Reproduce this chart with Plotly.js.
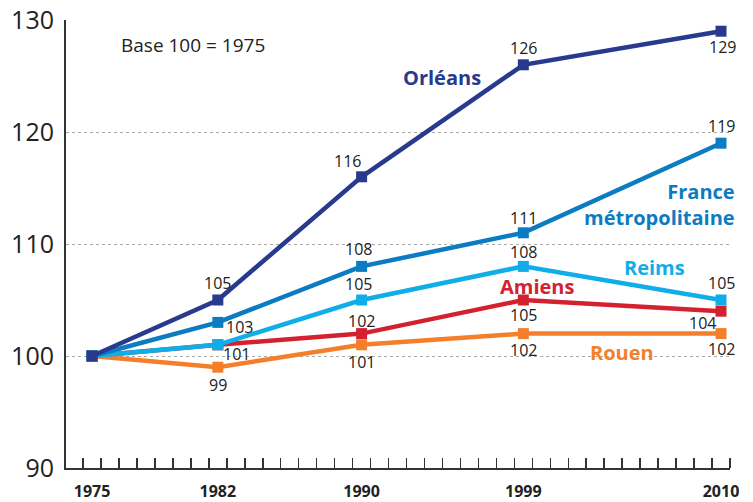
<!DOCTYPE html>
<html>
<head>
<meta charset="utf-8">
<script src="https://cdn.plot.ly/plotly-3.0.1.min.js"></script>
<style>html,body{margin:0;padding:0;background:#fff;}#chart{width:753px;height:502px;}</style>
</head>
<body>
<div id="chart"></div>
<script>
// ---- data ----
const years = [1975, 1982, 1990, 1999, 2010];
const yearLabels = ["1975", "1982", "1990", "1999", "2010"];
const orleans = [100, 105, 116, 126, 129];
const france  = [100, 103, 108, 111, 119];
const reims   = [100, 101, 105, 108, 105];
const amiens  = [100, 101, 102, 105, 104];
const rouen   = [100, 99, 101, 102, 102];
const seriesNames = ["Orléans", "France<br>métropolitaine", "Reims", "Amiens", "Rouen"];
const yTicks = [90, 100, 110, 120, 130];

// ---- styling ----
const colors = {
  orleans: "#283a8e",
  france: "#0b7cc2",
  reims: "#10aee8",
  amiens: "#d42130",
  rouen: "#f47f2b"
};
const FONT = "Open Sans, Noto Sans, sans-serif";

function trace(vals, color) {
  return {
    x: years, y: vals, type: "scatter", mode: "lines+markers",
    line: {color: color, width: 4.5},
    marker: {symbol: "square", size: 11, color: color},
    cliponaxis: false, hoverinfo: "skip", showlegend: false
  };
}

const data = [
  trace(amiens, colors.amiens),
  trace(rouen, colors.rouen),
  trace(reims, colors.reims),
  trace(france, colors.france),
  trace(orleans, colors.orleans)
];

// value labels: [series values, index, xshift, yshift]
const valueLabelPlacement = [
  [orleans, 1, 0, 17], [orleans, 2, -14, 16], [orleans, 3, 0, 17], [orleans, 4, 1, -16],
  [france, 1, 22, -5], [france, 2, -3, 17], [france, 3, 0, 15], [france, 4, 0, 17],
  [reims, 1, 19, -9], [reims, 2, -3, 16], [reims, 3, 0, 14], [reims, 4, 0, 17],
  [amiens, 2, 0, 13], [amiens, 3, 0, -15], [amiens, 4, -19, -12],
  [rouen, 1, 0, -18], [rouen, 2, 0, -17], [rouen, 3, 0, -16], [rouen, 4, 0, -15]
];

const annotations = valueLabelPlacement.map(p => ({
  x: years[p[1]], y: p[0][p[1]], text: String(p[0][p[1]]),
  xshift: p[2], yshift: p[3], showarrow: false,
  font: {family: FONT, size: 16, color: "#222"}
}));

function nameLabel(text, x, y, color, xanchor) {
  return {
    x: x, y: y, text: text, showarrow: false, xanchor: xanchor || "center",
    align: xanchor === "right" ? "right" : "center",
    font: {family: FONT, size: 20, color: color, weight: 700}
  };
}
annotations.push(nameLabel(seriesNames[0], 1994.5, 124.9, colors.orleans));
const fr = nameLabel(seriesNames[1], 1, 113.5, colors.france, "right");
fr.xref = "paper"; fr.xshift = 7;
annotations.push(fr);
annotations.push(nameLabel(seriesNames[2], 2006.3, 107.9, colors.reims));
annotations.push(nameLabel(seriesNames[3], 1999.8, 106.25, colors.amiens));
annotations.push(nameLabel(seriesNames[4], 2004.5, 100.3, colors.rouen));
annotations.push({
  x: 1976.5, y: 127.8, text: "Base 100 = 1975", showarrow: false, xanchor: "left",
  font: {family: FONT, size: 19, color: "#222"}
});

const layout = {
  width: 753, height: 502, autosize: false,
  margin: {l: 66, r: 23, t: 20, b: 34},
  paper_bgcolor: "#fff", plot_bgcolor: "#fff",
  xaxis: {
    range: [1973.55, 2010.5],
    tickmode: "array", tickvals: years, ticktext: yearLabels,
    ticks: "", showgrid: false, zeroline: false,
    showline: true, linecolor: "#333", linewidth: 2,
    tickfont: {family: FONT, size: 16, color: "#222", weight: 700},
    ticklabelstandoff: 8,
    minor: {tickmode: "linear", tick0: 1974.5, dtick: 1, ticks: "inside", ticklen: 10,
            tickwidth: 1.5, tickcolor: "#333", showgrid: false}
  },
  yaxis: {
    range: [90, 130],
    tickmode: "array", tickvals: yTicks, ticks: "",
    showgrid: true, gridcolor: "#aaa", griddash: "dot", gridwidth: 1,
    zeroline: false, showline: true, linecolor: "#333", linewidth: 2,
    tickfont: {family: FONT, size: 25, color: "#222"},
    ticklabelstandoff: 5
  },
  annotations: annotations
};

Plotly.newPlot("chart", data, layout, {staticPlot: true, displayModeBar: false});
</script>
</body>
</html>
